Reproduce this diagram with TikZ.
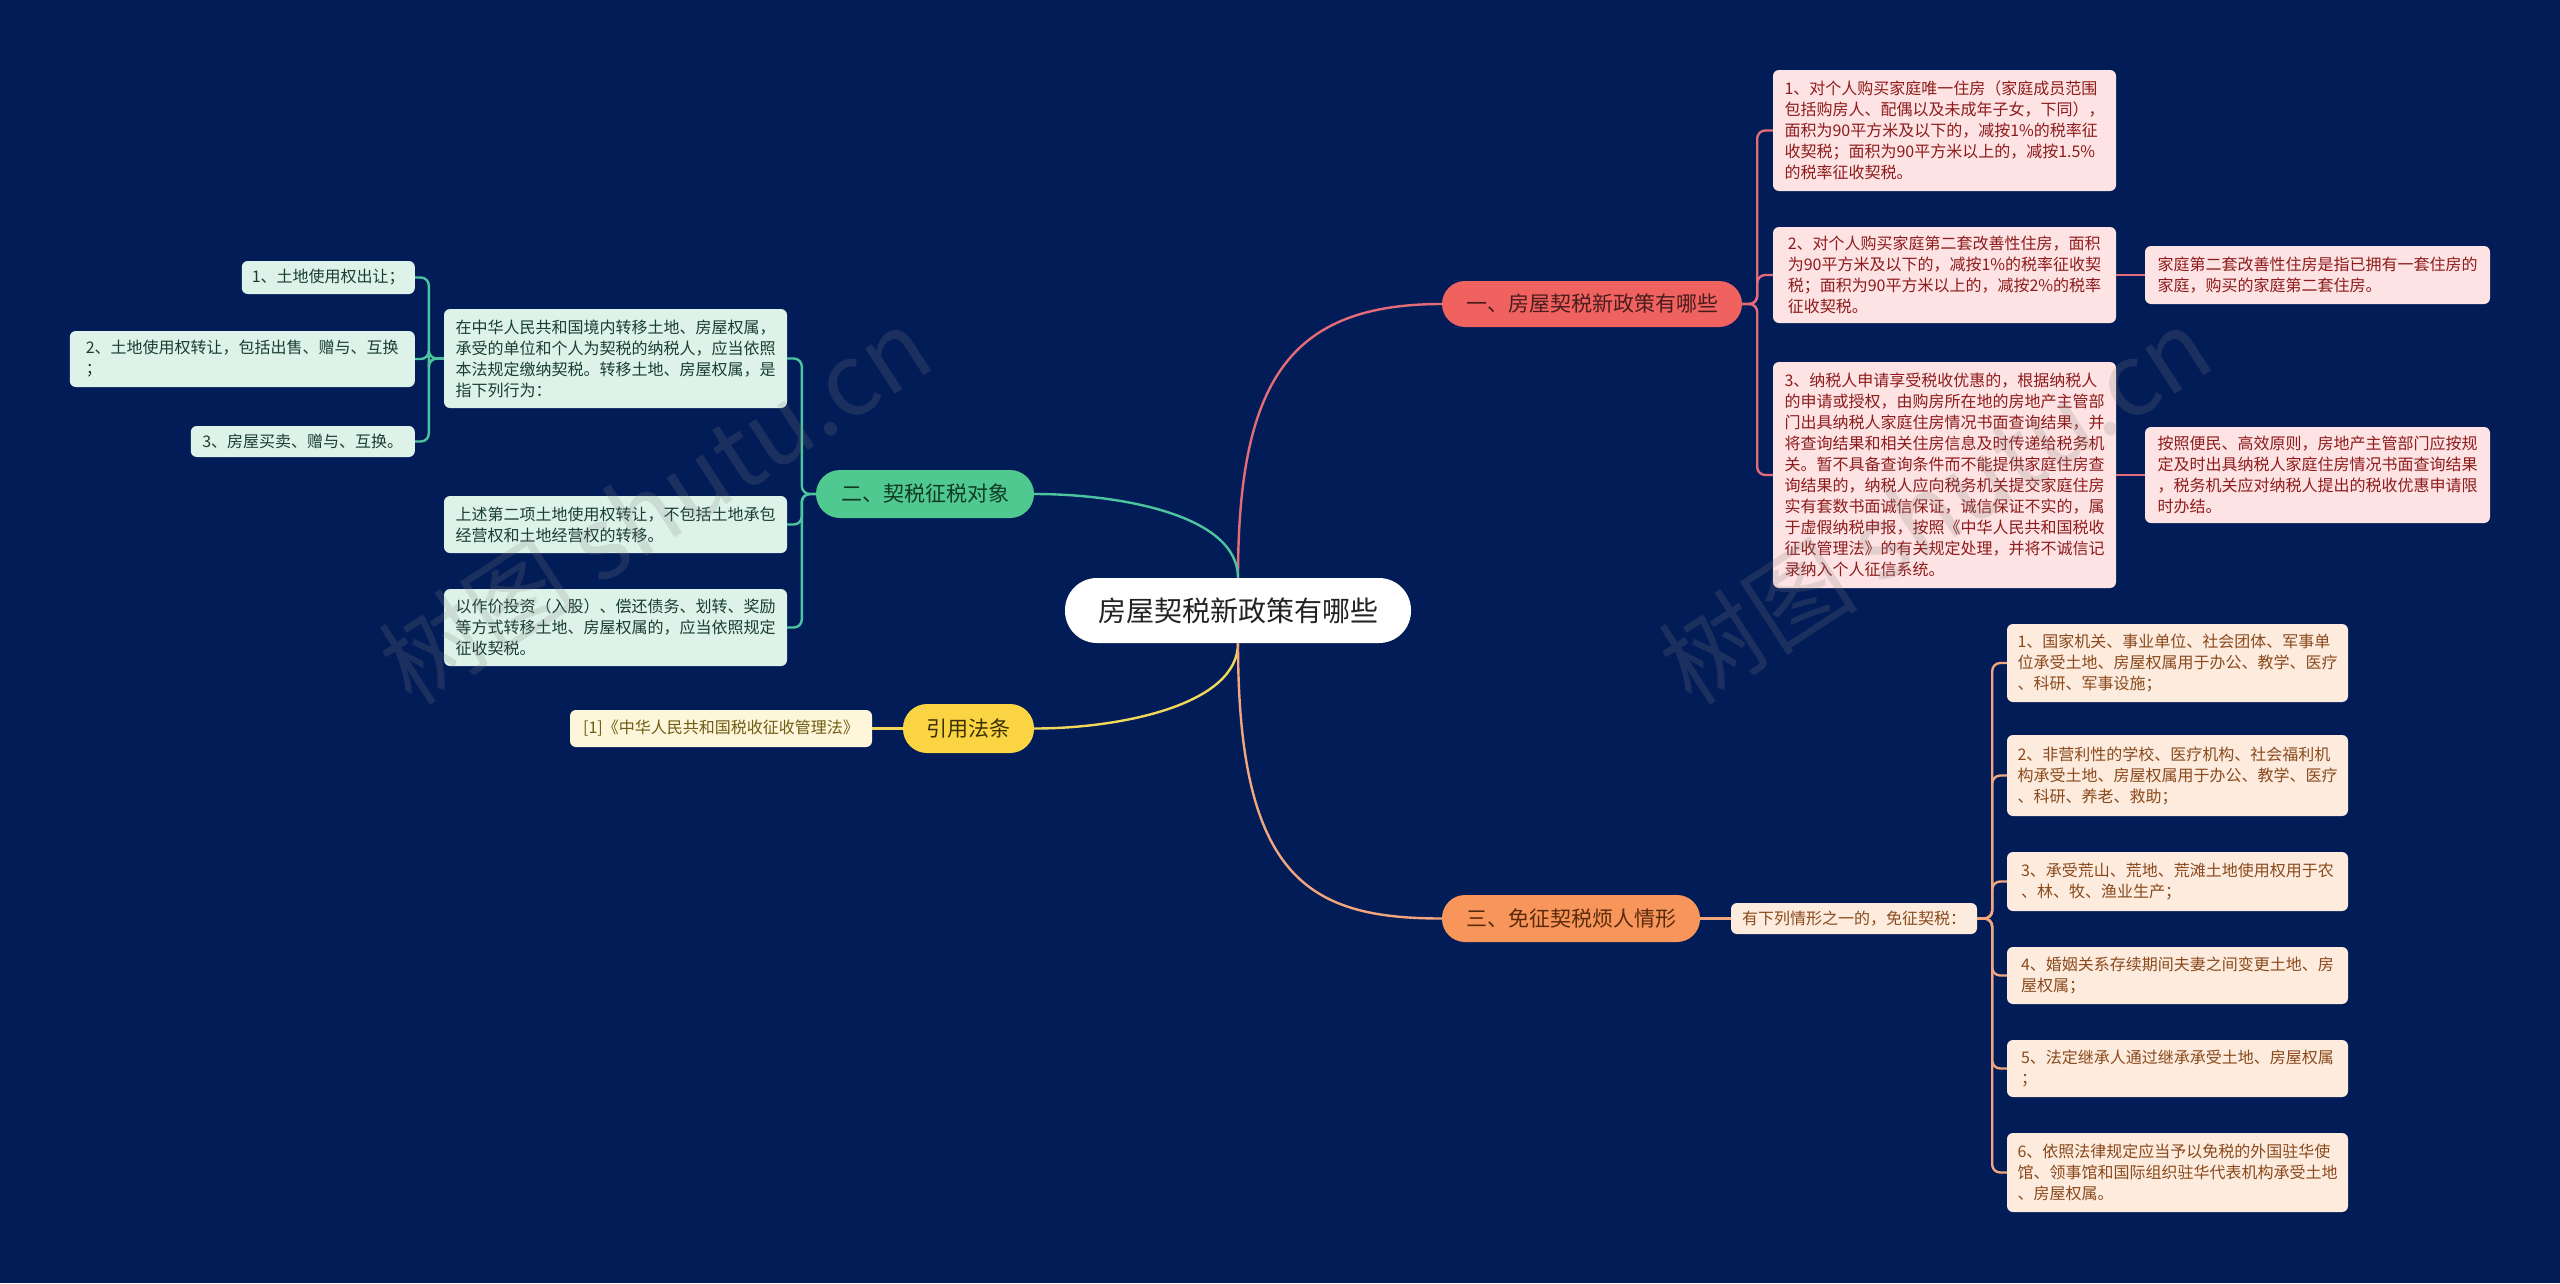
\documentclass[tikz,border=0pt]{standalone}
\usepackage{fontspec}
\setmainfont{Noto Sans CJK SC}
\definecolor{bg}{HTML}{021C57}
\definecolor{rootfill}{HTML}{FFFFFF}
\definecolor{roottext}{HTML}{222222}
\definecolor{redfill}{HTML}{F0625F}
\definecolor{redtext}{HTML}{4A1D1D}
\definecolor{redline}{HTML}{E46C78}
\definecolor{pinkfill}{HTML}{FDE3E3}
\definecolor{pinktext}{HTML}{8E1B1B}
\definecolor{greenfill}{HTML}{4FC98F}
\definecolor{greentext}{HTML}{103A26}
\definecolor{greenline}{HTML}{4CC4A0}
\definecolor{mintfill}{HTML}{DDF3EA}
\definecolor{minttext}{HTML}{1A3D31}
\definecolor{yellowfill}{HTML}{FBD444}
\definecolor{yellowtext}{HTML}{3A3000}
\definecolor{yellowline}{HTML}{F2D85A}
\definecolor{creamfill}{HTML}{FEF6DA}
\definecolor{creamtext}{HTML}{6E5C12}
\definecolor{orangefill}{HTML}{F8955A}
\definecolor{orangetext}{HTML}{5A2A0C}
\definecolor{orangeline}{HTML}{F2A67D}
\definecolor{peachfill}{HTML}{FDEBDE}
\definecolor{peachtext}{HTML}{8A4A1C}
\begin{document}
\begin{tikzpicture}[x=1pt,y=-1pt,
  leaf/.style={rounded corners=6pt, align=left, inner sep=0pt, font=\fontsize{16}{21}\selectfont},
  pinkbox/.style={leaf, fill=pinkfill, text=pinktext},
  mintbox/.style={leaf, fill=mintfill, text=minttext},
  creambox/.style={leaf, fill=creamfill, text=creamtext},
  peachbox/.style={leaf, fill=peachfill, text=peachtext},
  branchbox/.style={inner sep=0pt, font=\fontsize{21}{25}\selectfont},
  rootbox/.style={fill=rootfill, text=roottext, inner sep=0pt, rounded corners=32pt,
    minimum width=346pt, minimum height=65pt, font=\fontsize{28}{32}\selectfont},
  conn/.style={line width=2.4pt},
  redconn/.style={conn, draw=redline},
  greenconn/.style={conn, draw=greenline},
  yellowconn/.style={conn, draw=yellowline},
  orangeconn/.style={conn, draw=orangeline},
  bracket/.style={rounded corners=8pt},
  watermark/.style={rotate=33, text=gray, opacity=0.2, font=\fontsize{100}{100}\selectfont}
]
\fill[bg] (0,0) rectangle (2560,1283);
\useasboundingbox (0,0) rectangle (2560,1283);

% root
\node[rootbox] (root) at (1238,610.5) {房屋契税新政策有哪些};

% branches
\node[branchbox, fill=redfill, text=redtext, rounded corners=23pt, minimum width=300pt, minimum height=46pt] (b1) at (1592,304) {一、房屋契税新政策有哪些};
\node[branchbox, fill=greenfill, text=greentext, rounded corners=24pt, minimum width=218pt, minimum height=48pt] (b2) at (925,494) {二、契税征税对象};
\node[branchbox, fill=yellowfill, text=yellowtext, rounded corners=24pt, minimum width=131pt, minimum height=49pt] (b3) at (968.5,728.5) {引用法条};
\node[branchbox, fill=orangefill, text=orangetext, rounded corners=23pt, minimum width=258pt, minimum height=47pt] (b4) at (1571,918.5) {三、免征契税烦人情形};

% branch 1 children
\node[pinkbox, minimum width=343pt, minimum height=121pt] (p1) at (1944.5,130.5) {1、对个人购买家庭唯一住房（家庭成员范围\\包括购房人、配偶以及未成年子女，下同），\\面积为90平方米及以下的，减按1\%的税率征\\收契税；面积为90平方米以上的，减按1.5\%\\的税率征收契税。};
\node[pinkbox, minimum width=343pt, minimum height=96pt] (p2) at (1944.5,275) {2、对个人购买家庭第二套改善性住房，面积\\为90平方米及以下的，减按1\%的税率征收契\\税；面积为90平方米以上的，减按2\%的税率\\征收契税。};
\node[pinkbox, minimum width=343pt, minimum height=226pt] (p3) at (1944.5,475) {3、纳税人申请享受税收优惠的，根据纳税人\\的申请或授权，由购房所在地的房地产主管部\\门出具纳税人家庭住房情况书面查询结果，并\\将查询结果和相关住房信息及时传递给税务机\\关。暂不具备查询条件而不能提供家庭住房查\\询结果的，纳税人应向税务机关提交家庭住房\\实有套数书面诚信保证，诚信保证不实的，属\\于虚假纳税申报，按照《中华人民共和国税收\\征收管理法》的有关规定处理，并将不诚信记\\录纳入个人征信系统。};
\node[pinkbox, minimum width=345pt, minimum height=58pt] (p2c) at (2317.5,275) {家庭第二套改善性住房是指已拥有一套住房的\\家庭，购买的家庭第二套住房。};
\node[pinkbox, minimum width=345pt, minimum height=96pt] (p3c) at (2317.5,475) {按照便民、高效原则，房地产主管部门应按规\\定及时出具纳税人家庭住房情况书面查询结果\\，税务机关应对纳税人提出的税收优惠申请限\\时办结。};

% branch 2 children
\node[mintbox, minimum width=343pt, minimum height=99pt] (gA) at (615.5,358.5) {在中华人民共和国境内转移土地、房屋权属，\\承受的单位和个人为契税的纳税人，应当依照\\本法规定缴纳契税。转移土地、房屋权属，是\\指下列行为：};
\node[mintbox, minimum width=343pt, minimum height=57pt] (gB) at (615.5,524.5) {上述第二项土地使用权转让，不包括土地承包\\经营权和土地经营权的转移。};
\node[mintbox, minimum width=343pt, minimum height=77pt] (gC) at (615.5,627.5) {以作价投资（入股）、偿还债务、划转、奖励\\等方式转移土地、房屋权属的，应当依照规定\\征收契税。};
\node[mintbox, minimum width=173pt, minimum height=33pt, anchor=east] (a1) at (415,277.5) {1、土地使用权出让；};
\node[mintbox, minimum width=345pt, minimum height=56pt, anchor=east] (a2) at (415,359) {2、土地使用权转让，包括出售、赠与、互换\\；};
\node[mintbox, minimum width=224pt, minimum height=31pt, anchor=east] (a3) at (415,441.5) {3、房屋买卖、赠与、互换。};

% branch 3 child
\node[creambox, minimum width=302pt, minimum height=37pt] (y1) at (721,728.5) {[1]《中华人民共和国税收征收管理法》};

% branch 4 children
\node[peachbox, minimum width=246pt, minimum height=31pt] (o0) at (1854,918.5) {有下列情形之一的，免征契税：};
\node[peachbox, minimum width=341pt, minimum height=78pt] (o1) at (2177.5,663) {1、国家机关、事业单位、社会团体、军事单\\位承受土地、房屋权属用于办公、教学、医疗\\、科研、军事设施；};
\node[peachbox, minimum width=341pt, minimum height=81pt] (o2) at (2177.5,775.5) {2、非营利性的学校、医疗机构、社会福利机\\构承受土地、房屋权属用于办公、教学、医疗\\、科研、养老、救助；};
\node[peachbox, minimum width=341pt, minimum height=59pt] (o3) at (2177.5,881.5) {3、承受荒山、荒地、荒滩土地使用权用于农\\、林、牧、渔业生产；};
\node[peachbox, minimum width=341pt, minimum height=57pt] (o4) at (2177.5,975.5) {4、婚姻关系存续期间夫妻之间变更土地、房\\屋权属；};
\node[peachbox, minimum width=341pt, minimum height=57pt] (o5) at (2177.5,1068.5) {5、法定继承人通过继承承受土地、房屋权属\\；};
\node[peachbox, minimum width=341pt, minimum height=79pt] (o6) at (2177.5,1172.5) {6、依照法律规定应当予以免税的外国驻华使\\馆、领事馆和国际组织驻华代表机构承受土地\\、房屋权属。};

% root connectors
\draw[redconn] (root.north) .. controls (1238,380) and (1290,304) .. (b1.west);
\draw[greenconn] (root.north) .. controls (1238,515) and (1120,494) .. (b2.east);
\draw[yellowconn] (root.south) .. controls (1238,705) and (1120,728.5) .. (b3.east);
\draw[orangeconn] (root.south) .. controls (1238,880) and (1310,918.5) .. (b4.west);

% branch 1 brackets
\foreach \c in {p1,p2,p3}
  \draw[redconn, bracket] (b1.east) -- ++(15,0) |- (\c.west);
\draw[redconn] (p2.east) -- (p2c.west);
\draw[redconn] (p3.east) -- (p3c.west);

% branch 2 brackets
\foreach \c in {gA,gB,gC}
  \draw[greenconn, bracket] (b2.west) -- ++(-14,0) |- (\c.east);
\foreach \c in {a1,a2,a3}
  \draw[greenconn, bracket] (gA.west) -- ++(-15,0) |- (\c.east);

% branch 3
\draw[yellowconn] (b3.west) -- (y1.east);

% branch 4
\draw[orangeconn] (b4.east) -- (o0.west);
\foreach \c in {o1,o2,o3,o4,o5,o6}
  \draw[orangeconn, bracket] (o0.east) -- ++(15,0) |- (\c.west);

% watermarks
\node[watermark] (wm1) at (655,505) {树图 shutu.cn};
\node[watermark] (wm2) at (1935,505) {树图 shutu.cn};
\end{tikzpicture}
\end{document}
